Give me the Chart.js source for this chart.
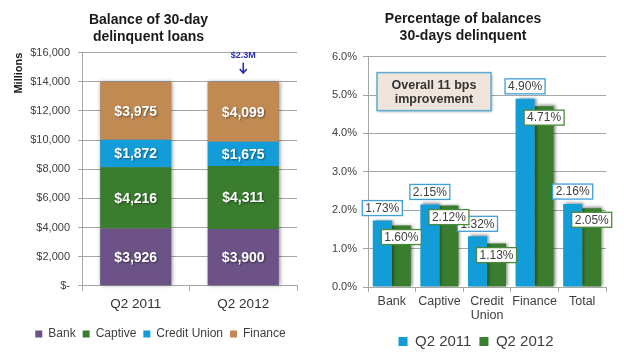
<!DOCTYPE html>
<html><head><meta charset="utf-8">
<script src="https://cdn.jsdelivr.net/npm/chart.js@4.4.1/dist/chart.umd.min.js"></script>
<style>
html,body{margin:0;padding:0;background:#fff;overflow:hidden;}
#wrap{position:relative;width:624px;height:356px;overflow:hidden;background:#fff;}
#c1{position:absolute;left:0;top:0;}
#c2{position:absolute;left:320px;top:0;}
</style></head><body>
<div id="wrap"><canvas id="c1" width="320" height="356"></canvas><canvas id="c2" width="304" height="361"></canvas></div>
<script>
// ---------- data ----------
const stackCategories = ['Q2 2011', 'Q2 2012'];
const bankBalance = [3926, 3900];
const captiveBalance = [4216, 4311];
const creditUnionBalance = [1872, 1675];
const financeBalance = [3975, 4099];
const balanceTitle = ['Balance of 30-day', 'delinquent loans'];
const balanceAxisTitle = 'Millions';
const changeNote = '$2.3M';

const pctCategories = [['Bank'], ['Captive'], ['Credit', 'Union'], ['Finance'], ['Total']];
const pct2011 = [1.73, 2.15, 1.32, 4.90, 2.16];
const pct2012 = [1.60, 2.12, 1.13, 4.71, 2.05];
const pctTitle = ['Percentage of balances', '30-days delinquent'];
const noteLines = ['Overall 11 bps', 'improvement'];

// ---------- style ----------
const FONT = '"Liberation Sans", Arial, sans-serif';
const GRID = '#A6A6A6';
const TXT = '#404040';
const C_BANK = '#6C5286', C_CAPT = '#3A7D2F', C_CU = '#129CD8', C_FIN = '#C18A53';
const C_Q1 = '#129CD8', C_Q2 = '#3A7D2F';
Chart.defaults.font.family = FONT;
Chart.defaults.color = TXT;

const fmtMoney = v => '$' + v.toLocaleString('en-US');
const fmtPct = v => v.toFixed(2) + '%';

// shift a centred legend sideways (the reference centres it on the whole panel)
const legendShift = dx => ({
  id: 'legendShift',
  afterLayout(chart) { if (chart.legend) { chart.legend.left += dx; chart.legend.right += dx; } }
});

// ---------- left chart plugins ----------
const stackShadow = {
  id: 'stackShadow',
  beforeDatasetsDraw(chart) {
    const ctx = chart.ctx;
    const metas = chart.getSortedVisibleDatasetMetas();
    const first = metas[0], last = metas[metas.length - 1];
    ctx.save();
    ctx.shadowColor = 'rgba(0,0,0,0.45)'; ctx.shadowBlur = 4; ctx.shadowOffsetX = 1; ctx.shadowOffsetY = 0;
    ctx.fillStyle = '#888';
    first.data.forEach((bar, i) => {
      const top = last.data[i];
      ctx.fillRect(bar.x - bar.width / 2, top.y, bar.width, bar.base - top.y);
    });
    ctx.restore();
  }
};
const segLabels = {
  id: 'segLabels',
  afterDatasetsDraw(chart) {
    const ctx = chart.ctx;
    ctx.save();
    ctx.font = 'bold 14px ' + FONT;
    ctx.fillStyle = '#fff'; ctx.textAlign = 'center'; ctx.textBaseline = 'middle';
    ctx.shadowColor = 'rgba(0,0,0,0.45)'; ctx.shadowBlur = 2; ctx.shadowOffsetX = 1; ctx.shadowOffsetY = 1;
    chart.data.datasets.forEach((ds, di) => {
      chart.getDatasetMeta(di).data.forEach((bar, i) => {
        ctx.fillText(fmtMoney(ds.data[i]), bar.x, (bar.y + bar.base) / 2 + 1);
      });
    });
    ctx.restore();
    // change annotation
    const metas = chart.getSortedVisibleDatasetMetas();
    const topBar = metas[metas.length - 1].data[1];
    const x = topBar.x;
    const yText = chart.scales.y.getPixelForValue(16000) + 3;
    ctx.save();
    ctx.font = 'bold 9px ' + FONT; ctx.fillStyle = '#2B2BB8';
    ctx.textAlign = 'center'; ctx.textBaseline = 'middle';
    ctx.fillText(changeNote, x, yText);
    ctx.strokeStyle = '#2B2BB8'; ctx.lineWidth = 1.6;
    const y0 = yText + 7, y1 = topBar.y - 9;
    ctx.beginPath(); ctx.moveTo(x, y0); ctx.lineTo(x, y1); ctx.stroke();
    ctx.beginPath(); ctx.moveTo(x - 3.5, y1 - 4); ctx.lineTo(x, y1); ctx.lineTo(x + 3.5, y1 - 4); ctx.stroke();
    ctx.restore();
  }
};

new Chart(document.getElementById('c1'), {
  type: 'bar',
  data: {
    labels: stackCategories,
    datasets: [
      { label: 'Bank', data: bankBalance, backgroundColor: C_BANK, borderWidth: 0 },
      { label: 'Captive', data: captiveBalance, backgroundColor: C_CAPT, borderWidth: 0 },
      { label: 'Credit Union', data: creditUnionBalance, backgroundColor: C_CU, borderWidth: 0 },
      { label: 'Finance', data: financeBalance, backgroundColor: C_FIN, borderWidth: 0 }
    ]
  },
  options: {
    responsive: false, animation: false,
    layout: { padding: { left: 0, right: 23, top: 0, bottom: 6 } },
    datasets: { bar: { categoryPercentage: 1, barPercentage: 0.66 } },
    plugins: {
      title: { display: true, text: balanceTitle, color: '#1A1A1A', font: { size: 14, weight: 'bold', lineHeight: 1.2 }, padding: { top: 12, bottom: 7 } },
      legend: { position: 'bottom', labels: { boxWidth: 7, boxHeight: 7, padding: 7, color: TXT, font: { size: 12 } } },
      tooltip: { enabled: false }
    },
    scales: {
      x: {
        stacked: true,
        afterFit(s) { s.height += 4; },
        grid: { drawOnChartArea: false, drawTicks: true, tickLength: 5, color: GRID },
        border: { color: GRID },
        ticks: { color: '#333', font: { size: 13.5 }, padding: 5 }
      },
      y: {
        stacked: true, min: 0, max: 16000,
        afterFit(s) { s.width = 82; },
        grid: { color: GRID, tickLength: 4 },
        border: { color: GRID },
        title: { display: true, text: balanceAxisTitle, align: 'end', color: '#1A1A1A', font: { size: 11, weight: 'bold' }, padding: { top: 12, bottom: 0 } },
        ticks: { stepSize: 2000, padding: 8, color: TXT, font: { size: 11 }, callback: v => v === 0 ? '$-' : fmtMoney(v) }
      }
    }
  },
  plugins: [stackShadow, segLabels, legendShift(12)]
});

// ---------- right chart plugins ----------
const barShadow = {
  id: 'barShadow',
  beforeDatasetDraw(chart) { const c = chart.ctx; c.save(); c.shadowColor = 'rgba(0,0,0,0.45)'; c.shadowBlur = 3; c.shadowOffsetX = 2; c.shadowOffsetY = -1; },
  afterDatasetDraw(chart) { chart.ctx.restore(); }
};
const pctLabels = {
  id: 'pctLabels',
  afterDatasetsDraw(chart) {
    const ctx = chart.ctx;
    const ca = chart.chartArea;
    // note box
    ctx.save();
    const bx = ca.left + 9, by = ca.top + 16, bw = 114, bh = 38;
    ctx.shadowColor = 'rgba(0,0,0,0.35)'; ctx.shadowBlur = 3; ctx.shadowOffsetX = 1; ctx.shadowOffsetY = 1;
    ctx.fillStyle = '#EFE5DC'; ctx.fillRect(bx, by, bw, bh);
    ctx.shadowColor = 'transparent';
    ctx.strokeStyle = '#5AAFD2'; ctx.lineWidth = 1.5; ctx.strokeRect(bx, by, bw, bh);
    ctx.font = 'bold 12.5px ' + FONT; ctx.fillStyle = '#333'; ctx.textAlign = 'center'; ctx.textBaseline = 'middle';
    ctx.fillText(noteLines[0], bx + bw / 2, by + 13);
    ctx.fillText(noteLines[1], bx + bw / 2, by + 27);
    ctx.restore();
    // value labels
    ctx.save();
    ctx.font = '12px ' + FONT; ctx.textAlign = 'center'; ctx.textBaseline = 'middle';
    chart.data.datasets.forEach((ds, di) => {
      chart.getDatasetMeta(di).data.forEach((bar, i) => {
        const t = fmtPct(ds.data[i]);
        const w = ctx.measureText(t).width + 6, h = 15;
        const top = di === 0 ? bar.y - 5 - h : bar.y + 4;
        ctx.fillStyle = '#fff';
        ctx.fillRect(bar.x - w / 2, top, w, h);
        ctx.strokeStyle = di === 0 ? '#3F9FD9' : '#4A8A3C'; ctx.lineWidth = 1.3;
        ctx.strokeRect(bar.x - w / 2, top, w, h);
        ctx.fillStyle = TXT;
        ctx.fillText(t, bar.x, top + h / 2 + 0.5);
      });
    });
    ctx.restore();
  }
};

new Chart(document.getElementById('c2'), {
  type: 'bar',
  data: {
    labels: pctCategories,
    datasets: [
      { label: 'Q2 2011', data: pct2011, backgroundColor: C_Q1, borderWidth: 0 },
      { label: 'Q2 2012', data: pct2012, backgroundColor: C_Q2, borderWidth: 0 }
    ]
  },
  options: {
    responsive: false, animation: false,
    layout: { padding: { left: 0, right: 18, top: 0, bottom: 2 } },
    datasets: { bar: { categoryPercentage: 0.8, barPercentage: 1 } },
    plugins: {
      title: { display: true, text: pctTitle, color: '#1A1A1A', font: { size: 14, weight: 'bold', lineHeight: 1.2 }, padding: { top: 11, bottom: 12 } },
      legend: { position: 'bottom', labels: { boxWidth: 9, boxHeight: 9, padding: 8, color: TXT, font: { size: 15 } } },
      tooltip: { enabled: false }
    },
    scales: {
      x: {
        grid: { drawOnChartArea: false, drawTicks: true, tickLength: 5, color: GRID },
        border: { color: GRID },
        ticks: { color: TXT, font: { size: 12.5, lineHeight: 1.12 }, padding: 3, maxRotation: 0, minRotation: 0, autoSkip: false }
      },
      y: {
        min: 0, max: 6,
        afterFit(s) { s.width = 48; },
        grid: { color: GRID, tickLength: 5 },
        border: { color: GRID },
        ticks: { stepSize: 1, padding: 6, color: TXT, font: { size: 11 }, callback: v => v.toFixed(1) + '%' }
      }
    }
  },
  plugins: [barShadow, pctLabels, legendShift(13)]
});
</script>
</body></html>
